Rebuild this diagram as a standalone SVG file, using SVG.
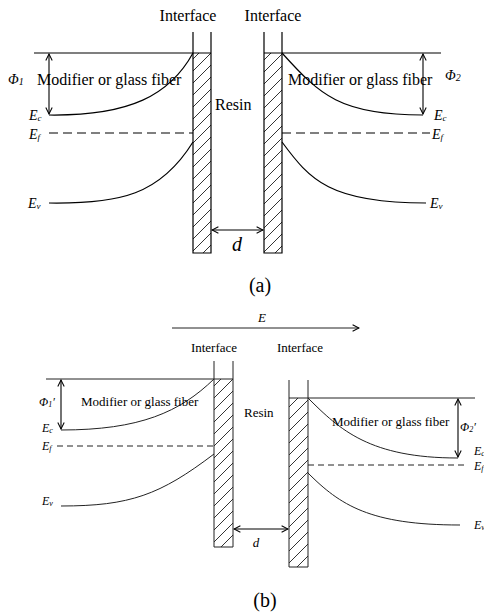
<svg xmlns="http://www.w3.org/2000/svg" width="484" height="614" viewBox="0 0 484 614">
<style>
text{font-family:"Liberation Serif","Times New Roman",serif;fill:#000}
.it{font-style:italic}
.ln{stroke:#000;stroke-width:1.2;fill:none}
.lb{stroke:#222;stroke-width:1;fill:none}
.da{stroke:#000;stroke-width:1.2;stroke-dasharray:9,5;fill:none}
.db{stroke:#222;stroke-width:1;stroke-dasharray:6,4;fill:none}
.ar{stroke:#000;stroke-width:1.1;fill:none;marker-start:url(#ah);marker-end:url(#ah)}
.ae{stroke:#222;stroke-width:1;fill:none;marker-end:url(#ah)}
</style>
<defs>
<marker id="ah" viewBox="0 0 10 10" refX="9" refY="5" markerWidth="8" markerHeight="8" markerUnits="userSpaceOnUse" orient="auto-start-reverse">
<path d="M1,1 L9,5 L1,9" fill="none" stroke="#000" stroke-width="1.3"/>
</marker>
<pattern id="hatch" patternUnits="userSpaceOnUse" width="12" height="12">
<path d="M-3,3 L3,-3 M0,12 L12,0 M9,15 L15,9" stroke="#333" stroke-width="1"/>
</pattern>
</defs>

<!-- (a) -->
<g id="a-left-bar">
<rect x="193" y="53" width="18" height="200" fill="url(#hatch)"/>
<path class="ln" d="M193,32 V253 H211 V32"/>
<text x="188" y="21" font-size="16" text-anchor="middle">Interface</text>
</g>
<g id="a-right-bar">
<rect x="264" y="53" width="18" height="200" fill="url(#hatch)"/>
<path class="ln" d="M264,32 V253 H282 V32"/>
<text x="273" y="21" font-size="16" text-anchor="middle">Interface</text>
</g>
<g id="a-left-region">
<line class="ln" x1="34" y1="53" x2="211" y2="53"/>
<path class="ln" d="M49,115 C130,116 170,95 193,53"/>
<line class="da" x1="49" y1="133" x2="193" y2="133"/>
<path class="ln" d="M49,203 C120,204 160,195 193,142"/>
<text x="37" y="85" font-size="16">Modifier or glass fiber</text>
<text class="it" x="8" y="84" font-size="14">Φ<tspan font-size="10" dy="1">1</tspan></text>
<text class="it" x="29" y="120" font-size="14">E<tspan font-size="9" dy="1">c</tspan></text>
<text class="it" x="29" y="139" font-size="14">E<tspan font-size="9" dy="1">f</tspan></text>
<text class="it" x="28" y="208" font-size="14">E<tspan font-size="9" dy="1">v</tspan></text>
</g>
<g id="a-right-region">
<line class="ln" x1="264" y1="53" x2="441" y2="53"/>
<path class="ln" d="M282,53 C320,95 340,115 423,115"/>
<line class="da" x1="282" y1="133" x2="430" y2="133"/>
<path class="ln" d="M282,142 C310,180 330,203 426,203"/>
<text x="288" y="85" font-size="16">Modifier or glass fiber</text>
<text class="it" x="445" y="80" font-size="14">Φ<tspan font-size="10" dy="1">2</tspan></text>
<text class="it" x="434" y="120" font-size="14">E<tspan font-size="9" dy="1">c</tspan></text>
<text class="it" x="432" y="139" font-size="14">E<tspan font-size="9" dy="1">f</tspan></text>
<text class="it" x="430" y="208" font-size="14">E<tspan font-size="9" dy="1">v</tspan></text>
</g>
<g id="a-resin"><text x="215" y="110" font-size="16">Resin</text></g>
<g id="a-connectors">
<line class="ar" x1="49" y1="54" x2="49" y2="114"/>
<line class="ar" x1="423" y1="54" x2="423" y2="114"/>
<line class="ar" x1="212" y1="230" x2="263" y2="230"/>
</g>
<text class="it" x="237" y="251" font-size="20" text-anchor="middle">d</text>
<text x="260" y="292" font-size="20" text-anchor="middle">(a)</text>

<!-- (b) -->
<g id="b-field">
<line class="ae" x1="172" y1="328" x2="359" y2="328"/>
<text class="it" x="262" y="322" font-size="13" text-anchor="middle">E</text>
</g>
<g id="b-left-bar">
<rect x="214" y="379" width="19" height="168" fill="url(#hatch)"/>
<path class="lb" d="M214,361 V547 H233 V361"/>
<text x="214" y="352" font-size="13" text-anchor="middle">Interface</text>
</g>
<g id="b-right-bar">
<rect x="289" y="398" width="19" height="169" fill="url(#hatch)"/>
<path class="lb" d="M289,380 V567 H308 V380"/>
<text x="300" y="352" font-size="13" text-anchor="middle">Interface</text>
</g>
<g id="b-left-region">
<line class="lb" x1="46" y1="379" x2="233" y2="379"/>
<path class="lb" d="M61,430 C140,430 180,412 214,379"/>
<line class="db" x1="57" y1="446" x2="214" y2="446"/>
<path class="lb" d="M61,506 C130,506 160,495 214,454"/>
<text x="81" y="406" font-size="13">Modifier or glass fiber</text>
<text class="it" x="39" y="406" font-size="12">Φ<tspan font-size="8" dy="1">1</tspan><tspan dy="-1">′</tspan></text>
<text class="it" x="42" y="432" font-size="12">E<tspan font-size="8" dy="1">c</tspan></text>
<text class="it" x="42" y="450" font-size="12">E<tspan font-size="8" dy="1">f</tspan></text>
<text class="it" x="42" y="505" font-size="12">E<tspan font-size="8" dy="1">v</tspan></text>
</g>
<g id="b-right-region">
<line class="lb" x1="289" y1="398" x2="475" y2="398"/>
<path class="lb" d="M308,398 C340,430 370,458 458,458"/>
<line class="db" x1="308" y1="465" x2="464" y2="465"/>
<path class="lb" d="M308,473 C340,505 370,525 460,525"/>
<text x="332" y="426" font-size="13">Modifier or glass fiber</text>
<text class="it" x="460" y="431" font-size="12">Φ<tspan font-size="8" dy="1">2</tspan><tspan dy="-1">′</tspan></text>
<text class="it" x="474" y="455" font-size="12">E<tspan font-size="8" dy="1">c</tspan></text>
<text class="it" x="474" y="470" font-size="12">E<tspan font-size="8" dy="1">f</tspan></text>
<text class="it" x="474" y="529" font-size="12">E<tspan font-size="8" dy="1">v</tspan></text>
</g>
<g id="b-resin"><text x="244" y="417" font-size="13">Resin</text></g>
<g id="b-connectors">
<line class="ar" x1="61" y1="380" x2="61" y2="429"/>
<line class="ar" x1="458" y1="399" x2="458" y2="457"/>
<line class="ar" x1="234" y1="529" x2="288" y2="529"/>
</g>
<text class="it" x="256" y="547" font-size="13" text-anchor="middle">d</text>
<text x="265" y="607" font-size="20" text-anchor="middle">(b)</text>
</svg>
